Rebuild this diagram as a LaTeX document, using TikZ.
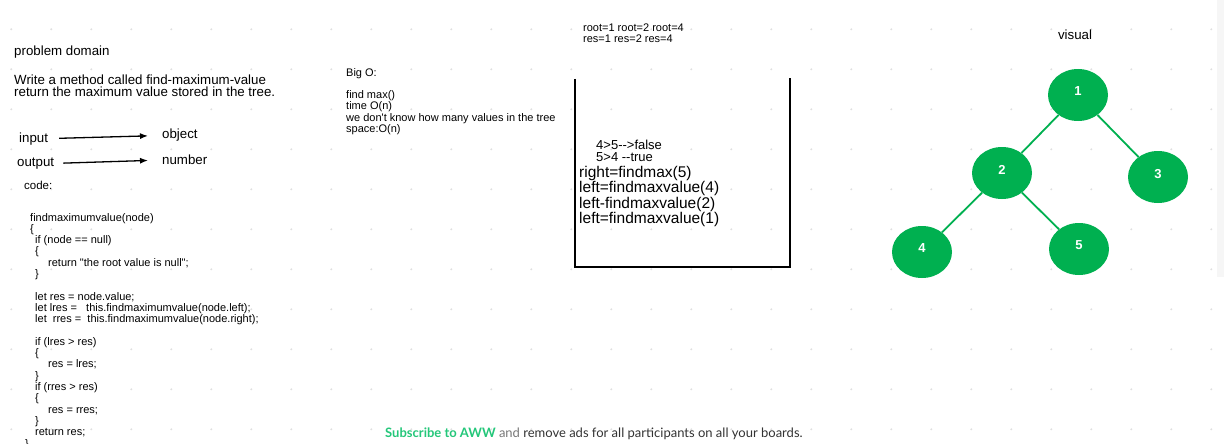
\documentclass[tikz,border=0pt]{standalone}
\usepackage{fontspec}
\setmainfont{Liberation Sans}[Ligatures=TeXOff]
\newfontfamily\latofont{Lato}[Ligatures=TeXOff]
\usetikzlibrary{arrows.meta,shapes.geometric}

\definecolor{treegreen}{RGB}{0,176,80}
\definecolor{awwgreen}{RGB}{36,199,122}
\definecolor{griddot}{RGB}{224,224,224}
\definecolor{stripgray}{RGB}{246,246,246}
\definecolor{inkgray}{RGB}{51,51,51}
\definecolor{andgray}{RGB}{120,120,120}

\newcommand{\fs}[2]{\fontsize{#1}{#2}\selectfont}

\begin{document}
\begin{tikzpicture}[
  x=1pt, y=-1pt,
  txt/.style={inner sep=0, anchor=west, font=\fs{13.3}{14}},
  lines/.style={inner sep=0, anchor=base west, align=left},
  arr/.style={-{Latex[length=8pt,width=6pt]}, line width=1.3pt},
  leaf/.style={ellipse, fill=treegreen, minimum width=60pt, minimum height=52pt, inner sep=0, text depth=7pt, text=white, font=\bfseries\fs{13}{13}},
  link/.style={treegreen, line width=1.8pt}
]
\fill[white] (0,0) rectangle (1224,444);
\useasboundingbox (0,0) rectangle (1224,444);
\fill[stripgray] (1217,0) rectangle (1224,277);
\foreach \i in {0,...,30} {
  \foreach \j in {0,...,10} {
    \fill[griddot] (11.3+40*\i, 29.3+40*\j) circle (1.1pt);
  }
}

% problem domain (multi-line nodes sit on the baseline of their last line)
\node[txt] (domain) at (14,52) {problem domain};
\node[lines, font=\fs{13.3}{12}] (task) at (14,96.5) {Write a method called find-maximum-value\\return the maximum value stored in the tree.};
\node[txt] (input) at (19,139) {input};
\node[txt] (object) at (162,135) {object};
\node[txt] (output) at (17,164) {output};
\node[txt] (number) at (162,159.3) {number};
\draw[arr, shorten <=11pt, shorten >=14pt] (input) -- (object);
\draw[arr, shorten <=9pt, shorten >=14pt] (output) -- (number);
\node[txt, font=\fs{11.5}{12}] (codelbl) at (24,185) {code:};

% code
\node[lines, font=\fs{11}{11.3}] (code) at (30,447) {findmaximumvalue(node)\\
\{\\
\hspace*{5pt}if (node == null)\\
\hspace*{5pt}\{\\
\hspace*{18pt}return "the root value is null";\\
\hspace*{5pt}\}\\
~\\
\hspace*{5pt}let res = node.value;\\
\hspace*{5pt}let lres = \ \ this.findmaximumvalue(node.left);\\
\hspace*{5pt}let \ rres = \ this.findmaximumvalue(node.right);\\
~\\
\hspace*{5pt}if (lres > res)\\
\hspace*{5pt}\{\\
\hspace*{18pt}res = lres;\\
\hspace*{5pt}\}\\
\hspace*{5pt}if (rres > res)\\
\hspace*{5pt}\{\\
\hspace*{18pt}res = rres;\\
\hspace*{5pt}\}\\
\hspace*{5pt}return res;\\
\hspace*{-5pt}\}};

% big O
\node[lines, font=\fs{11}{11.3}] (bigo) at (346,132.5) {Big O:\\~\\find max()\\time O(n)\\we don't know how many values in the tree\\space:O(n)};

% call stack
\node[lines, font=\fs{11}{11}] (trace) at (583,43) {root=1 root=2 root=4\\res=1 res=2 res=4};
\draw[line width=2pt] (575,79) -- (575,267) -- (790,267) -- (790,78);
\node[lines, font=\fs{13}{12}] (cmp) at (596,161.7) {4>5-->false\\5>4 --true};
\node[lines, font=\fs{15.5}{15.4}] (calls) at (579,223.7) {right=findmax(5)\\left=findmaxvalue(4)\\left-findmaxvalue(2)\\left=findmaxvalue(1)};

% tree
\node[txt, anchor=center] (visual) at (1075,35) {visual};
\node[leaf] (n1) at (1078,95) {1};
\node[leaf] (n2) at (1002,173) {2};
\node[leaf] (n3) at (1158,177) {3};
\node[leaf] (n4) at (922,252) {4};
\node[leaf] (n5) at (1079,249) {5};
\draw[link] (n1) -- (n2);
\draw[link] (n1) -- (n3);
\draw[link] (n2) -- (n4);
\draw[link] (n2) -- (n5);

% footer
\node[txt, font=\latofont\fs{13}{13}] (ad) at (385,434) {\textcolor{awwgreen}{\bfseries Subscribe to AWW} \textcolor{andgray}{and} \textcolor{inkgray}{remove ads for all participants on all your boards.}};
\end{tikzpicture}
\end{document}
